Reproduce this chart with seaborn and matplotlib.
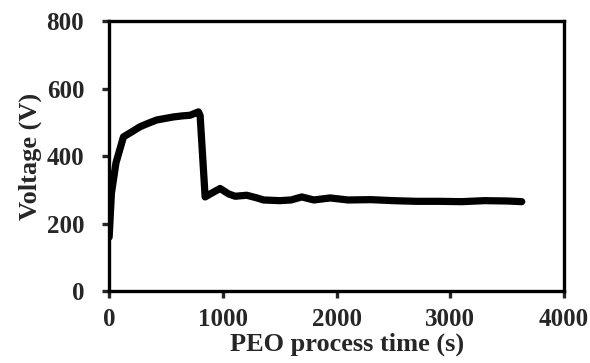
import pandas as pd
import matplotlib.pyplot as plt
import seaborn as sns

# PEO voltage transient
time_s = [0, 20, 60, 126, 200, 272, 350, 419, 500, 566, 640, 712, 785, 800,
          844, 900, 976, 1050, 1108, 1210, 1300, 1357, 1500, 1600, 1694, 1800,
          1943, 2100, 2300, 2500, 2700, 2900, 3100, 3300, 3500, 3628]
voltage = [160, 290, 380, 457, 472, 487, 498, 507, 512, 516, 519, 521, 531, 520,
           279, 290, 304, 288, 281, 284, 276, 270, 268, 270, 279, 270,
           276, 270, 271, 268, 266, 266, 265, 268, 267, 265]

df = pd.DataFrame({"PEO process time (s)": time_s, "Voltage (V)": voltage})

sns.set_style("ticks")
plt.rcParams["font.family"] = ["Liberation Serif", "DejaVu Serif"]
plt.rcParams["font.weight"] = "bold"

fig = plt.figure(figsize=(5.9, 3.63), dpi=100)
ax = fig.add_axes([0.185, 0.198, 0.771, 0.744])

sns.lineplot(data=df, x="PEO process time (s)", y="Voltage (V)", ax=ax,
             color="black", linewidth=5.2, solid_joinstyle="round",
             solid_capstyle="round")

ax.set_xlim(0, 4000)
ax.set_ylim(0, 800)
ax.set_xticks([0, 1000, 2000, 3000, 4000])
ax.set_yticks([0, 200, 400, 600, 800])

for s in ax.spines.values():
    s.set_linewidth(2.4)
    s.set_color("black")
    s.set_visible(True)

ax.tick_params(axis="x", direction="out", length=5, width=2.4, pad=7,
               labelsize=18, top=False)
ax.tick_params(axis="y", direction="out", length=5, width=2.4, pad=13,
               labelsize=18, right=False)
for lbl in ax.get_xticklabels() + ax.get_yticklabels():
    lbl.set_fontweight("bold")

ax.set_xlabel("PEO process time (s)", fontsize=19, fontweight="bold")
ax.set_ylabel("Voltage (V)", fontsize=19, fontweight="bold", labelpad=3)
ax.xaxis.set_label_coords(0.523, -0.155)

fig.savefig("out.png", dpi=100)
